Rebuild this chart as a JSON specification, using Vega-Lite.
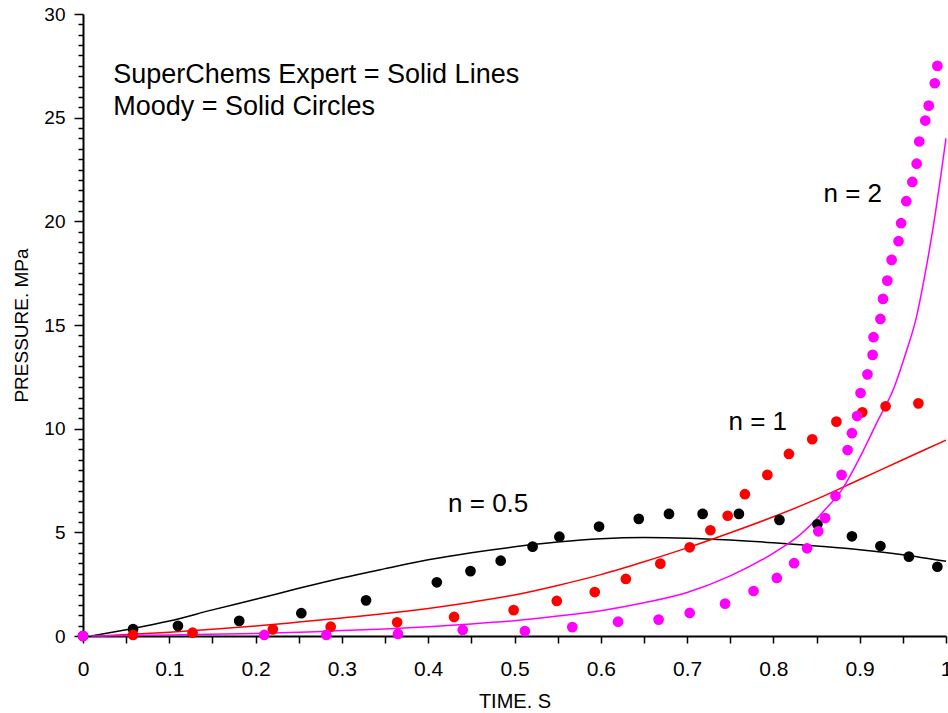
{
  "$schema": "https://vega.github.io/schema/vega-lite/v6.json",
  "width": 863,
  "height": 622,
  "autosize": {"type": "none"},
  "padding": {"left": 83, "top": 14, "right": 2, "bottom": 77},
  "background": "white",
  "config": {
    "view": {"stroke": null},
    "font": "Liberation Sans",
    "axis": {"grid": false, "domainColor": "black", "domainWidth": 2, "tickColor": "black", "tickWidth": 1.5, "labelColor": "black", "titleColor": "black", "labelFont": "Liberation Sans", "titleFont": "Liberation Sans", "titleFontWeight": "normal"}
  },
  "datasets": {
    "curves": [
      {"series": "n = 0.5", "t": 0.01, "p": 0.0},
      {"series": "n = 0.5", "t": 0.05, "p": 0.30},
      {"series": "n = 0.5", "t": 0.1, "p": 0.72},
      {"series": "n = 0.5", "t": 0.15, "p": 1.26},
      {"series": "n = 0.5", "t": 0.2, "p": 1.77},
      {"series": "n = 0.5", "t": 0.25, "p": 2.30},
      {"series": "n = 0.5", "t": 0.3, "p": 2.80},
      {"series": "n = 0.5", "t": 0.35, "p": 3.25},
      {"series": "n = 0.5", "t": 0.4, "p": 3.68},
      {"series": "n = 0.5", "t": 0.45, "p": 4.02},
      {"series": "n = 0.5", "t": 0.5, "p": 4.30},
      {"series": "n = 0.5", "t": 0.55, "p": 4.53},
      {"series": "n = 0.5", "t": 0.6, "p": 4.69},
      {"series": "n = 0.5", "t": 0.65, "p": 4.75},
      {"series": "n = 0.5", "t": 0.7, "p": 4.72},
      {"series": "n = 0.5", "t": 0.75, "p": 4.63},
      {"series": "n = 0.5", "t": 0.8, "p": 4.50},
      {"series": "n = 0.5", "t": 0.85, "p": 4.34},
      {"series": "n = 0.5", "t": 0.9, "p": 4.16},
      {"series": "n = 0.5", "t": 0.95, "p": 3.92},
      {"series": "n = 0.5", "t": 1.0, "p": 3.60},
      {"series": "n = 1", "t": 0.02, "p": 0.0},
      {"series": "n = 1", "t": 0.1, "p": 0.18},
      {"series": "n = 1", "t": 0.15, "p": 0.32},
      {"series": "n = 1", "t": 0.2, "p": 0.48},
      {"series": "n = 1", "t": 0.25, "p": 0.67},
      {"series": "n = 1", "t": 0.3, "p": 0.87},
      {"series": "n = 1", "t": 0.35, "p": 1.08},
      {"series": "n = 1", "t": 0.4, "p": 1.33},
      {"series": "n = 1", "t": 0.45, "p": 1.63},
      {"series": "n = 1", "t": 0.5, "p": 1.98},
      {"series": "n = 1", "t": 0.55, "p": 2.44},
      {"series": "n = 1", "t": 0.6, "p": 2.96},
      {"series": "n = 1", "t": 0.65, "p": 3.58},
      {"series": "n = 1", "t": 0.7, "p": 4.25},
      {"series": "n = 1", "t": 0.75, "p": 4.98},
      {"series": "n = 1", "t": 0.8, "p": 5.75},
      {"series": "n = 1", "t": 0.85, "p": 6.6},
      {"series": "n = 1", "t": 0.9, "p": 7.55},
      {"series": "n = 1", "t": 0.95, "p": 8.5},
      {"series": "n = 1", "t": 1.0, "p": 9.45},
      {"series": "n = 2", "t": 0.01, "p": 0.0},
      {"series": "n = 2", "t": 0.1, "p": 0.05},
      {"series": "n = 2", "t": 0.2, "p": 0.12},
      {"series": "n = 2", "t": 0.27, "p": 0.21},
      {"series": "n = 2", "t": 0.3, "p": 0.26},
      {"series": "n = 2", "t": 0.35, "p": 0.34},
      {"series": "n = 2", "t": 0.4, "p": 0.45},
      {"series": "n = 2", "t": 0.45, "p": 0.58},
      {"series": "n = 2", "t": 0.5, "p": 0.74},
      {"series": "n = 2", "t": 0.55, "p": 0.96},
      {"series": "n = 2", "t": 0.6, "p": 1.22},
      {"series": "n = 2", "t": 0.65, "p": 1.6},
      {"series": "n = 2", "t": 0.7, "p": 2.1},
      {"series": "n = 2", "t": 0.75, "p": 2.9},
      {"series": "n = 2", "t": 0.8, "p": 4.0},
      {"series": "n = 2", "t": 0.83, "p": 4.85},
      {"series": "n = 2", "t": 0.86, "p": 6.1},
      {"series": "n = 2", "t": 0.88, "p": 7.1},
      {"series": "n = 2", "t": 0.9, "p": 8.6},
      {"series": "n = 2", "t": 0.92, "p": 10.3},
      {"series": "n = 2", "t": 0.94, "p": 12.0},
      {"series": "n = 2", "t": 0.955, "p": 13.85},
      {"series": "n = 2", "t": 0.965, "p": 15.25},
      {"series": "n = 2", "t": 0.975, "p": 17.3},
      {"series": "n = 2", "t": 0.987, "p": 20.2},
      {"series": "n = 2", "t": 0.995, "p": 22.5},
      {"series": "n = 2", "t": 1.0, "p": 24.0}
    ],
    "moody": [
      {"series": "n = 0.5", "t": 0.0, "p": 0.0},
      {"series": "n = 0.5", "t": 0.058, "p": 0.33},
      {"series": "n = 0.5", "t": 0.110, "p": 0.49},
      {"series": "n = 0.5", "t": 0.181, "p": 0.73},
      {"series": "n = 0.5", "t": 0.253, "p": 1.10},
      {"series": "n = 0.5", "t": 0.328, "p": 1.72},
      {"series": "n = 0.5", "t": 0.410, "p": 2.59},
      {"series": "n = 0.5", "t": 0.449, "p": 3.13},
      {"series": "n = 0.5", "t": 0.484, "p": 3.63},
      {"series": "n = 0.5", "t": 0.521, "p": 4.31},
      {"series": "n = 0.5", "t": 0.552, "p": 4.79},
      {"series": "n = 0.5", "t": 0.598, "p": 5.28},
      {"series": "n = 0.5", "t": 0.644, "p": 5.65},
      {"series": "n = 0.5", "t": 0.679, "p": 5.89},
      {"series": "n = 0.5", "t": 0.718, "p": 5.89},
      {"series": "n = 0.5", "t": 0.760, "p": 5.89},
      {"series": "n = 0.5", "t": 0.807, "p": 5.60},
      {"series": "n = 0.5", "t": 0.851, "p": 5.39},
      {"series": "n = 0.5", "t": 0.891, "p": 4.81},
      {"series": "n = 0.5", "t": 0.924, "p": 4.34},
      {"series": "n = 0.5", "t": 0.957, "p": 3.83},
      {"series": "n = 0.5", "t": 0.990, "p": 3.34},
      {"series": "n = 1", "t": 0.0, "p": 0.0},
      {"series": "n = 1", "t": 0.058, "p": 0.05},
      {"series": "n = 1", "t": 0.127, "p": 0.16},
      {"series": "n = 1", "t": 0.220, "p": 0.32},
      {"series": "n = 1", "t": 0.287, "p": 0.45},
      {"series": "n = 1", "t": 0.364, "p": 0.66},
      {"series": "n = 1", "t": 0.430, "p": 0.92},
      {"series": "n = 1", "t": 0.499, "p": 1.25},
      {"series": "n = 1", "t": 0.549, "p": 1.69},
      {"series": "n = 1", "t": 0.593, "p": 2.12},
      {"series": "n = 1", "t": 0.629, "p": 2.75},
      {"series": "n = 1", "t": 0.669, "p": 3.49},
      {"series": "n = 1", "t": 0.703, "p": 4.28},
      {"series": "n = 1", "t": 0.727, "p": 5.10},
      {"series": "n = 1", "t": 0.747, "p": 5.80},
      {"series": "n = 1", "t": 0.767, "p": 6.84},
      {"series": "n = 1", "t": 0.793, "p": 7.77},
      {"series": "n = 1", "t": 0.818, "p": 8.78},
      {"series": "n = 1", "t": 0.845, "p": 9.49},
      {"series": "n = 1", "t": 0.873, "p": 10.34},
      {"series": "n = 1", "t": 0.903, "p": 10.79},
      {"series": "n = 1", "t": 0.930, "p": 11.08},
      {"series": "n = 1", "t": 0.968, "p": 11.22},
      {"series": "n = 2", "t": 0.0, "p": 0.0},
      {"series": "n = 2", "t": 0.210, "p": 0.05},
      {"series": "n = 2", "t": 0.282, "p": 0.05},
      {"series": "n = 2", "t": 0.365, "p": 0.10},
      {"series": "n = 2", "t": 0.440, "p": 0.29},
      {"series": "n = 2", "t": 0.512, "p": 0.24},
      {"series": "n = 2", "t": 0.567, "p": 0.43},
      {"series": "n = 2", "t": 0.620, "p": 0.69},
      {"series": "n = 2", "t": 0.667, "p": 0.79},
      {"series": "n = 2", "t": 0.703, "p": 1.11},
      {"series": "n = 2", "t": 0.744, "p": 1.56},
      {"series": "n = 2", "t": 0.777, "p": 2.17},
      {"series": "n = 2", "t": 0.804, "p": 2.80},
      {"series": "n = 2", "t": 0.824, "p": 3.51},
      {"series": "n = 2", "t": 0.839, "p": 4.23},
      {"series": "n = 2", "t": 0.852, "p": 5.05},
      {"series": "n = 2", "t": 0.860, "p": 5.69},
      {"series": "n = 2", "t": 0.872, "p": 6.75},
      {"series": "n = 2", "t": 0.879, "p": 7.77},
      {"series": "n = 2", "t": 0.886, "p": 8.97},
      {"series": "n = 2", "t": 0.891, "p": 9.78},
      {"series": "n = 2", "t": 0.897, "p": 10.61},
      {"series": "n = 2", "t": 0.901, "p": 11.72},
      {"series": "n = 2", "t": 0.909, "p": 12.62},
      {"series": "n = 2", "t": 0.915, "p": 13.56},
      {"series": "n = 2", "t": 0.916, "p": 14.41},
      {"series": "n = 2", "t": 0.924, "p": 15.29},
      {"series": "n = 2", "t": 0.927, "p": 16.26},
      {"series": "n = 2", "t": 0.932, "p": 17.14},
      {"series": "n = 2", "t": 0.937, "p": 18.14},
      {"series": "n = 2", "t": 0.945, "p": 19.04},
      {"series": "n = 2", "t": 0.948, "p": 19.91},
      {"series": "n = 2", "t": 0.954, "p": 20.97},
      {"series": "n = 2", "t": 0.961, "p": 21.90},
      {"series": "n = 2", "t": 0.966, "p": 22.78},
      {"series": "n = 2", "t": 0.969, "p": 23.85},
      {"series": "n = 2", "t": 0.976, "p": 24.86},
      {"series": "n = 2", "t": 0.980, "p": 25.58},
      {"series": "n = 2", "t": 0.987, "p": 26.66},
      {"series": "n = 2", "t": 0.990, "p": 27.50}
    ],
    "notes": [
      {"t": 0.035, "p": 26.68, "label": "SuperChems Expert = Solid Lines", "size": 27},
      {"t": 0.035, "p": 25.13, "label": "Moody = Solid Circles", "size": 27},
      {"t": 0.423, "p": 6.0, "label": "n = 0.5", "size": 26},
      {"t": 0.748, "p": 9.94, "label": "n = 1", "size": 26},
      {"t": 0.858, "p": 20.95, "label": "n = 2", "size": 26}
    ]
  },
  "encoding": {
    "x": {
      "field": "t", "type": "quantitative",
      "scale": {"domain": [0, 1], "nice": false, "zero": false},
      "axis": {
        "title": "TIME. S",
        "titleFontSize": 20,
        "titleY": 71,
        "titleBaseline": "alphabetic",
        "values": [0, 0.05, 0.1, 0.15, 0.2, 0.25, 0.3, 0.35, 0.4, 0.45, 0.5, 0.55, 0.6, 0.65, 0.7, 0.75, 0.8, 0.85, 0.9, 0.95, 1],
        "labelExpr": "abs(datum.value*10 - round(datum.value*10)) < 0.001 ? format(datum.value, '.1~f') : ''",
        "labelFontSize": 21,
        "tickSize": 7,
        "labelPadding": 15,
        "labelFlush": false,
        "labelOverlap": false
      }
    },
    "y": {
      "field": "p", "type": "quantitative",
      "scale": {"domain": [0, 30], "nice": false},
      "axis": {
        "title": "PRESSURE. MPa",
        "titleFontSize": 19,
        "titleX": -56,
        "titleY": 311,
        "titleAngle": 270,
        "titleAlign": "center",
        "titleBaseline": "alphabetic",
        "values": [0, 0.5, 1, 1.5, 2, 2.5, 3, 3.5, 4, 4.5, 5, 5.5, 6, 6.5, 7, 7.5, 8, 8.5, 9, 9.5, 10, 10.5, 11, 11.5, 12, 12.5, 13, 13.5, 14, 14.5, 15, 15.5, 16, 16.5, 17, 17.5, 18, 18.5, 19, 19.5, 20, 20.5, 21, 21.5, 22, 22.5, 23, 23.5, 24, 24.5, 25, 25.5, 26, 26.5, 27, 27.5, 28, 28.5, 29, 29.5, 30],
        "labelExpr": "datum.value % 5 === 0 ? format(datum.value, 'd') : ''",
        "tickSize": {"condition": {"test": "datum.value % 5 === 0", "value": 9}, "value": 5},
        "labelFontSize": 19,
        "labelPadding": 9,
        "labelOverlap": false
      }
    }
  },
  "layer": [
    {
      "data": {"name": "curves"},
      "mark": {"type": "line", "strokeWidth": 1.5, "interpolate": "monotone"},
      "encoding": {
        "color": {"field": "series", "type": "nominal", "scale": {"domain": ["n = 0.5", "n = 1", "n = 2"], "range": ["#000000", "#ff0000", "#ff00ff"]}, "legend": null},
        "detail": {"field": "series"}
      }
    },
    {
      "data": {"name": "moody"},
      "mark": {"type": "circle", "size": 115, "opacity": 1},
      "encoding": {
        "color": {"field": "series", "type": "nominal", "scale": {"domain": ["n = 0.5", "n = 1", "n = 2"], "range": ["#000000", "#ff0000", "#ff00ff"]}, "legend": null}
      }
    },
    {
      "data": {"name": "notes"},
      "mark": {"type": "text", "align": "left", "baseline": "alphabetic", "font": "Liberation Sans", "color": "black"},
      "encoding": {
        "text": {"field": "label"},
        "size": {"field": "size", "type": "quantitative", "scale": null}
      }
    }
  ]
}
